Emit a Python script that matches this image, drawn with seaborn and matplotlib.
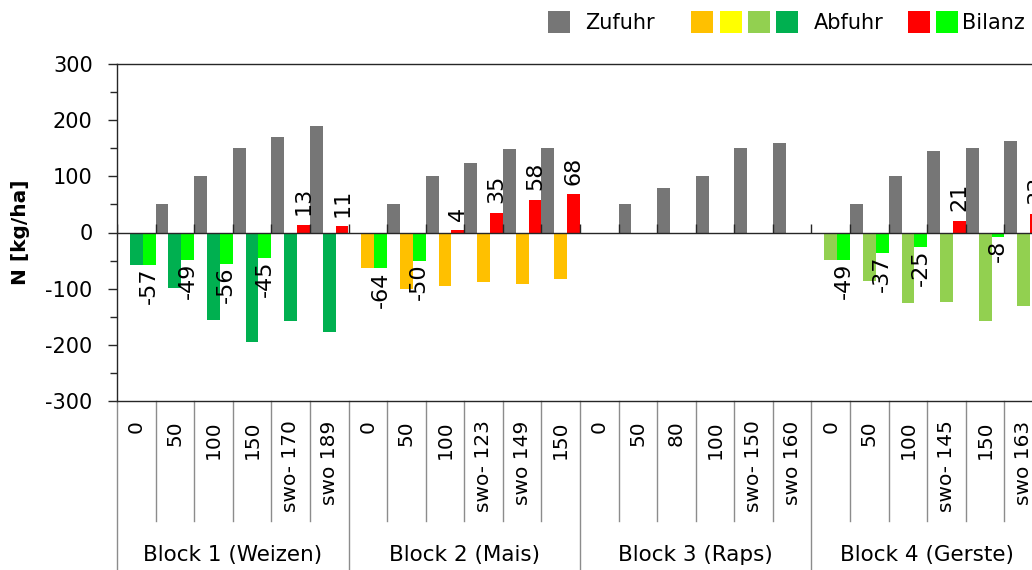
import numpy as np
import pandas as pd
import seaborn as sns
import matplotlib.pyplot as plt
from matplotlib.patches import Rectangle
from matplotlib.ticker import MultipleLocator

# Daten
blocks = ["Block 1 (Weizen)", "Block 2 (Mais)", "Block 3 (Raps)", "Block 4 (Gerste)"]
labels = ["0", "50", "100", "150", "swo- 170", "swo 189",
          "0", "50", "100", "swo- 123", "swo 149", "150",
          "0", "50", "80", "100", "swo- 150", "swo 160",
          "0", "50", "100", "swo- 145", "150", "swo 163"]
zufuhr = [0, 50, 100, 150, 170, 189,
          0, 50, 100, 123, 149, 150,
          0, 50, 80, 100, 150, 160,
          0, 50, 100, 145, 150, 163]
abfuhr = [-57, -99, -156, -195, -157, -178,
          -64, -100, -96, -88, -91, -82,
          0, 0, 0, 0, 0, 0,
          -49, -87, -125, -124, -158, -130]
bilanz = [-57, -49, -56, -45, 13, 11,
          -64, -50, 4, 35, 58, 68,
          np.nan, np.nan, np.nan, np.nan, np.nan, np.nan,
          -49, -37, -25, 21, -8, 33]

series = ["Zufuhr", "Abfuhr", "Bilanz"]
block_size = 6
gray = "#767676"
abfuhr_colors = ["#00B050", "#FFC000", "#FFFF00", "#92D050"]
red, lime = "#FF0000", "#00FF00"
line_gray = "#8C8C8C"
dark = "#262626"

plt.rcParams["font.family"] = ["DejaVu Sans"]
plt.rcParams["axes.unicode_minus"] = False

n = len(labels)
df = pd.DataFrame({
    "pos": np.tile(np.arange(n), 3),
    "serie": np.repeat(series, n),
    "wert": np.concatenate([zufuhr, abfuhr, np.nan_to_num(bilanz)]),
})

W, H = 1032, 570
fig = plt.figure(figsize=(W / 100, H / 100), dpi=100)
ax = fig.add_axes([117 / W, 169 / H, 926 / W, 337 / H])

sns.barplot(data=df, x="pos", y="wert", hue="serie", hue_order=series,
            palette=[gray, abfuhr_colors[0], red], width=1.0, gap=0,
            dodge=True, errorbar=None, legend=False, linewidth=0, ax=ax)

# Farben pro Balken anpassen
for i, bar in enumerate(ax.containers[1]):
    bar.set_facecolor(abfuhr_colors[i // block_size])
for i, bar in enumerate(ax.containers[2]):
    v = bilanz[i]
    bar.set_facecolor(red if v > 0 else lime)
    if np.isnan(v):
        continue
    ax.annotate(f"{int(v)}", xy=(bar.get_x() + bar.get_width() / 2, v),
                xytext=(0, 7 if v > 0 else -2), textcoords="offset points",
                rotation=90, ha="center", va="bottom" if v > 0 else "top",
                fontsize=16, color="black", annotation_clip=False)

ax.set_xlim(-0.5, n - 0.5)
ax.set_ylim(-300, 300)
ax.yaxis.set_major_locator(MultipleLocator(100))
ax.yaxis.set_minor_locator(MultipleLocator(50))
ax.tick_params(axis="y", which="major", length=6.5, width=1, color=dark,
               labelsize=15, pad=11)
ax.tick_params(axis="y", which="minor", length=5, width=1, color=dark)
ax.set_ylabel("N [kg/ha]", fontweight="bold", fontsize=14.5)
ax.yaxis.set_label_coords(-0.094, 0.5)

ax.set_xticks(range(n))
ax.set_xticklabels(labels, rotation=90, fontsize=14.5)
ax.tick_params(axis="x", length=0, pad=14)
ax.set_xlabel("")

ax.spines["right"].set_visible(False)
for side in ["left", "top", "bottom"]:
    ax.spines[side].set_color(dark)
    ax.spines[side].set_linewidth(1)

# Nulllinie mit kleinen Strichen
ax.axhline(0, color=dark, lw=1, zorder=3)
bounds = np.arange(n + 1) - 0.5
ax.vlines(bounds, 0, 15, color=dark, lw=1, zorder=3)

# Kategorie-Trennlinien unterhalb der Achse
tr = ax.get_xaxis_transform()
for j, b in enumerate(bounds):
    low = -0.52 if j % block_size == 0 else -0.355
    ax.plot([b, b], [0, low], transform=tr, clip_on=False, color=line_gray, lw=1)
for k, name in enumerate(blocks):
    center = k * block_size + (block_size - 1) / 2
    ax.text(center, -0.457, name, transform=tr, ha="center", va="center",
            fontsize=15.5)

# Legende
def fig_box(x0, x1, color, y0=11, y1=33):
    fig.add_artist(Rectangle((x0 / W, 1 - y1 / H), (x1 - x0) / W, (y1 - y0) / H,
                             transform=fig.transFigure, facecolor=color,
                             edgecolor="none"))

def fig_label(x, txt):
    fig.text(x / W, 1 - 23 / H, txt, ha="left", va="center", fontsize=15)

fig_box(548, 570, gray)
fig_label(585, "Zufuhr")
for x0, c in zip([691, 720, 748, 776], ["#FFC000", "#FFFF00", "#92D050", "#00B050"]):
    fig_box(x0, x0 + 22, c)
fig_label(814, "Abfuhr")
fig_box(908, 930, red)
fig_box(936, 958, lime)
fig_label(962, "Bilanz")

fig.savefig("out.png", dpi=100)
